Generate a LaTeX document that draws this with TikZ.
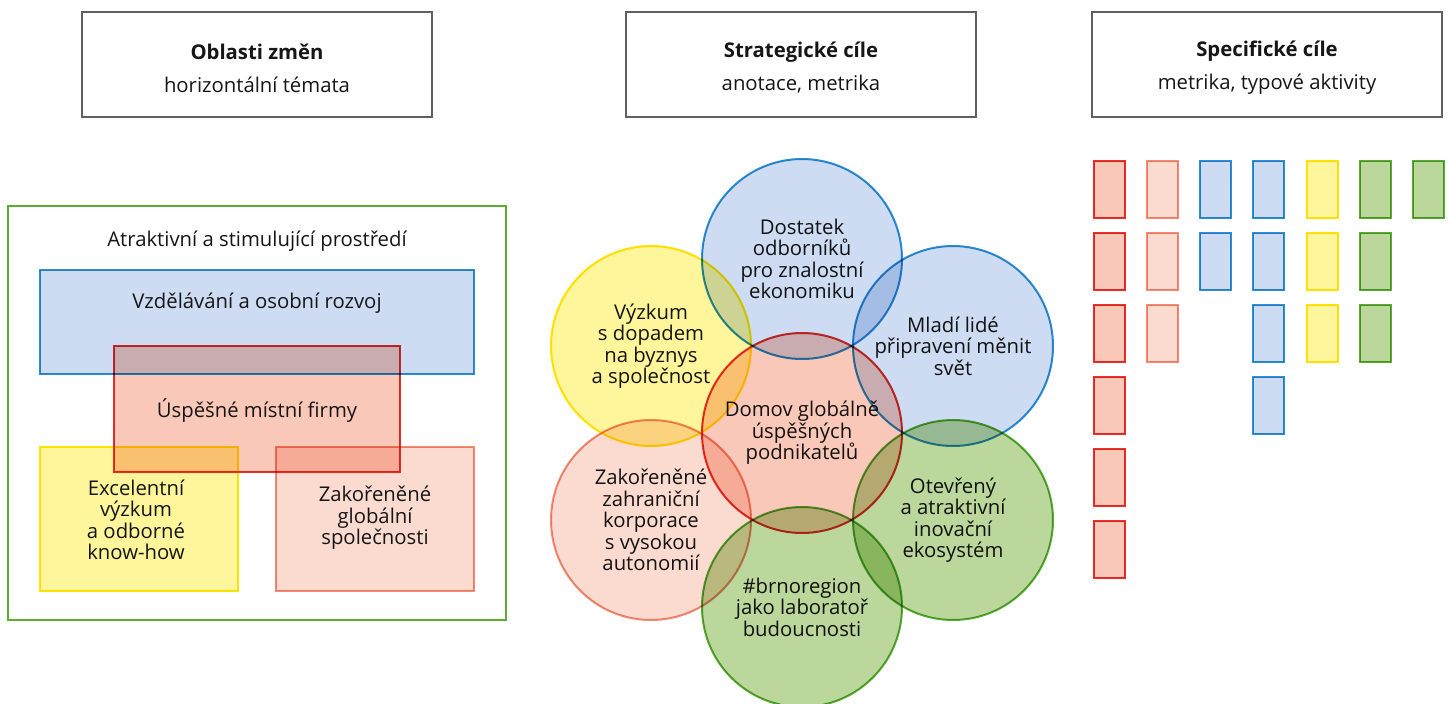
\documentclass[tikz,border=0pt]{standalone}
\usepackage{fontspec}
\setmainfont{Open Sans}
\definecolor{redB}{HTML}{E7302A}
\definecolor{redF}{HTML}{F9C8B9}
\definecolor{salB}{HTML}{F08C78}
\definecolor{salF}{HTML}{FBDBD0}
\definecolor{bluB}{HTML}{2E90D1}
\definecolor{bluF}{HTML}{CDDCF2}
\definecolor{yelB}{HTML}{FFE600}
\definecolor{yelF}{HTML}{FFF59A}
\definecolor{grnB}{HTML}{5BAE33}
\definecolor{grnF}{HTML}{BBD79C}
\definecolor{hdrG}{HTML}{606060}
\definecolor{txt}{HTML}{161616}
\begin{document}
\begin{tikzpicture}[x=1pt,y=-1pt,
  every node/.style={font=\fontsize{20.3}{21.5}\selectfont, inner sep=0pt, text=txt},
  hdr/.style={draw=hdrG, line width=2pt, minimum width=350pt, minimum height=105pt},
  hdrtxt/.style={align=center, font=\fontsize{20.3}{33}\selectfont},
  area/.style n args={2}{draw=#1, fill=#2, line width=2pt, rectangle},
  txtnode/.style={align=center},
  circ/.style n args={2}{circle, draw=#1, fill=#2, line width=2pt, minimum size=200pt, align=center},
  tile/.style n args={2}{rectangle, draw=#1, fill=#2, line width=2pt, minimum width=31pt, minimum height=57pt},
]
\useasboundingbox (0,0) rectangle (1449,704);
\fill[white] (0,0) rectangle (1449,704);

% headers
\node[hdr] (h1) at (257,64.5) {};
\node[hdr] (h2) at (801,64.5) {};
\node[hdr] (h3) at (1267,64.5) {};
\node[hdrtxt] (h1t) at (257,68) {\textbf{Oblasti změn}\\horizontální témata};
\node[hdrtxt] (h2t) at (801,68) {\textbf{Strategické cíle}\\anotace, metrika};
\node[hdrtxt] (h3t) at (1267,68) {\textbf{Specifické cíle}\\metrika, typové aktivity};

\begin{scope}[blend mode=multiply]
% left panel
\node[area={grnB}{white}, minimum width=498pt, minimum height=414pt] (env) at (257,413) {};
\node[area={bluB}{bluF}, minimum width=434pt, minimum height=104pt] (edu) at (257,322) {};
\node[area={yelB}{yelF}, minimum width=198pt, minimum height=144pt] (res) at (139,519) {};
\node[area={salB}{salF}, minimum width=198pt, minimum height=144pt] (glob) at (375,519) {};
\node[area={redB}{redF}, minimum width=286pt, minimum height=126pt] (firm) at (257,409) {};

% circles
\node[circ={bluB}{bluF}] (c1) at (802,259) {Dostatek\\odborníků\\pro znalostní\\ekonomiku};
\node[circ={yelB}{yelF}] (c2) at (651,346) {Výzkum\\s dopadem\\na byznys\\a společnost};
\node[circ={bluB}{bluF}] (c3) at (953,346) {Mladí lidé\\připravení měnit\\svět};
\node[circ={salB}{salF}] (c4) at (651,520) {Zakořeněné\\zahraniční\\korporace\\s vysokou\\autonomií};
\node[circ={grnB}{grnF}] (c5) at (953,520) {Otevřený\\a atraktivní\\inovační\\ekosystém};
\node[circ={grnB}{grnF}] (c6) at (802,607) {\#brnoregion\\jako laboratoř\\budoucnosti};
\node[circ={redB}{redF}] (c0) at (802,433) {Domov globálně\\úspěšných\\podnikatelů};

% tiles
\foreach \j in {0,...,5} \node[tile={redB}{redF}] (t1-\j) at (1109,189.5+71.9*\j) {};
\foreach \j in {0,...,2} \node[tile={salB}{salF}] (t2-\j) at (1162.3,189.5+71.9*\j) {};
\foreach \j in {0,...,1} \node[tile={bluB}{bluF}] (t3-\j) at (1215.6,189.5+71.9*\j) {};
\foreach \j in {0,...,3} \node[tile={bluB}{bluF}] (t4-\j) at (1268.9,189.5+71.9*\j) {};
\foreach \j in {0,...,2} \node[tile={yelB}{yelF}] (t5-\j) at (1322.2,189.5+71.9*\j) {};
\foreach \j in {0,...,2} \node[tile={grnB}{grnF}] (t6-\j) at (1375.5,189.5+71.9*\j) {};
\node[tile={grnB}{grnF}] (t7-0) at (1428.8,189.5) {};
\end{scope}

% texts of left panel
\node[txtnode] (envt) at (257,241) {Atraktivní a stimulující prostředí};
\node[txtnode] (edut) at (257,303) {Vzdělávání a osobní rozvoj};
\node[txtnode] (firmt) at (257,410) {Úspěšné místní firmy};
\node[txtnode] (rest) at (136,520) {Excelentní\\výzkum\\a odborné\\know-how};
\node[txtnode] (globt) at (375,518) {Zakořeněné\\globální\\společnosti};
\end{tikzpicture}
\end{document}
